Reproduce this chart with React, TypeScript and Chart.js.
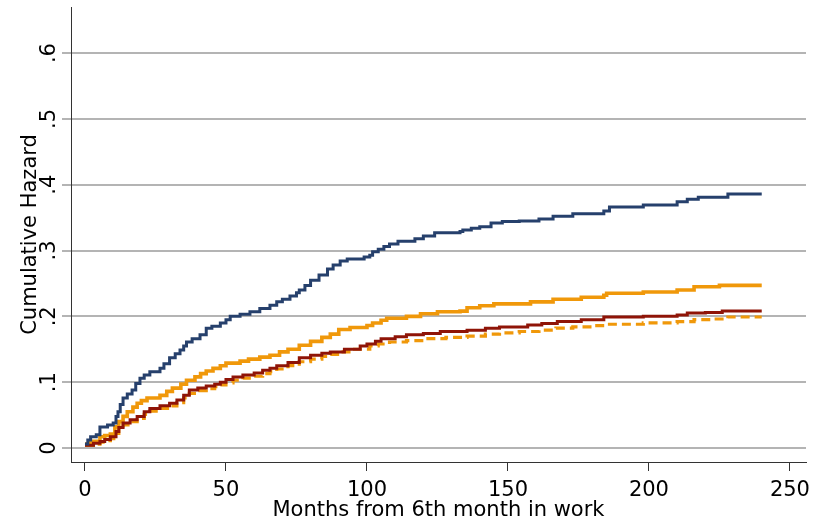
import React, { useEffect, useRef } from "react";
import { Chart, registerables } from "chart.js";

Chart.register(...registerables);

// ---- Data ----
const xTitle = "Months from 6th month in work";
const yTitle = "Cumulative Hazard";
const xTicks = [0, 50, 100, 150, 200, 250];
const yTickLabels = ["0", ".1", ".2", ".3", ".4", ".5", ".6"];

const navyMonths = [0, 1, 2, 4, 5.3, 8, 10, 11, 11.7, 12.5, 13.5, 15, 16.7, 18, 19.5, 21, 23, 26.6, 28, 30, 32, 33.7, 35, 36, 38, 40.8, 43, 45, 48, 50, 51.5, 55, 58.5, 62, 65.6, 68, 70, 72.7, 75, 76, 78, 80, 83, 86, 88, 90.5, 93, 99, 101, 102, 104, 106, 108, 111, 117, 120, 124, 133, 134, 137, 140, 144, 148, 154, 161, 166, 173, 184, 186, 198, 210, 213.6, 217.5, 228, 240];
const navyHazard = [0.006, 0.012, 0.017, 0.02, 0.032, 0.035, 0.038, 0.048, 0.055, 0.066, 0.076, 0.082, 0.088, 0.098, 0.106, 0.111, 0.116, 0.121, 0.128, 0.137, 0.143, 0.149, 0.155, 0.161, 0.166, 0.172, 0.182, 0.185, 0.19, 0.195, 0.2, 0.203, 0.207, 0.212, 0.217, 0.222, 0.226, 0.231, 0.236, 0.24, 0.247, 0.255, 0.263, 0.272, 0.278, 0.284, 0.287, 0.29, 0.293, 0.298, 0.302, 0.306, 0.31, 0.314, 0.318, 0.322, 0.327, 0.329, 0.331, 0.334, 0.336, 0.342, 0.344, 0.345, 0.348, 0.352, 0.356, 0.36, 0.366, 0.369, 0.374, 0.378, 0.381, 0.386, 0.386];

const orangeMonths = [0, 2, 5.3, 7, 9, 10.6, 12, 13.5, 15, 17, 18.5, 20, 22, 26.6, 29, 31, 34, 36, 39, 41, 43, 45.4, 48, 50, 55, 58, 62, 65.6, 69, 72, 76, 80, 84, 87, 90, 94, 100, 102, 105, 107, 114, 119, 125, 133, 135.5, 140, 145, 154, 158, 166, 176, 184, 185, 198, 210, 216, 225, 240];
const orangeHazard = [0.006, 0.01, 0.017, 0.019, 0.021, 0.032, 0.04, 0.048, 0.055, 0.062, 0.068, 0.072, 0.076, 0.08, 0.086, 0.091, 0.097, 0.103, 0.108, 0.113, 0.117, 0.121, 0.125, 0.129, 0.132, 0.135, 0.138, 0.141, 0.146, 0.15, 0.156, 0.162, 0.168, 0.173, 0.18, 0.183, 0.186, 0.19, 0.194, 0.197, 0.2, 0.204, 0.207, 0.208, 0.213, 0.216, 0.219, 0.219, 0.222, 0.226, 0.229, 0.232, 0.235, 0.237, 0.24, 0.245, 0.247, 0.247];

const redMonths = [0, 3, 5.3, 7, 9, 11, 12, 13.5, 16, 18.5, 21, 23, 26.6, 30, 32.6, 35, 37, 40, 43, 46, 48, 50, 52.5, 56, 60, 63, 65.6, 68, 72, 76, 80, 84, 87, 92, 97.6, 100, 103, 105, 110, 114, 120, 126, 135.5, 142, 147, 157, 162, 167.5, 176, 184, 198, 210, 213.6, 220, 226, 240];
const redHazard = [0.004, 0.007, 0.01, 0.013, 0.017, 0.025, 0.031, 0.038, 0.043, 0.048, 0.055, 0.06, 0.064, 0.068, 0.073, 0.08, 0.088, 0.091, 0.094, 0.097, 0.1, 0.104, 0.108, 0.111, 0.114, 0.118, 0.121, 0.125, 0.13, 0.137, 0.141, 0.144, 0.146, 0.15, 0.155, 0.158, 0.162, 0.166, 0.169, 0.172, 0.174, 0.177, 0.179, 0.182, 0.184, 0.187, 0.189, 0.192, 0.195, 0.199, 0.2, 0.202, 0.205, 0.206, 0.208, 0.208];

const dashMonths = [0, 3, 5.3, 7, 9, 11, 12, 13.5, 16, 18.5, 21, 23, 26.6, 30, 32.6, 35, 37, 40, 43, 46, 48, 50, 52.5, 56, 60, 63, 65.6, 68, 72, 76, 80, 84, 87, 90.5, 95, 101, 104, 108, 114, 120, 128, 135.5, 142, 147, 154, 161, 167, 173, 180, 185, 198, 210, 216, 222, 228, 240];
const dashHazard = [0.004, 0.006, 0.009, 0.011, 0.014, 0.022, 0.029, 0.035, 0.04, 0.045, 0.051, 0.056, 0.06, 0.064, 0.069, 0.076, 0.083, 0.087, 0.09, 0.093, 0.096, 0.099, 0.103, 0.106, 0.109, 0.113, 0.116, 0.12, 0.125, 0.131, 0.135, 0.139, 0.142, 0.146, 0.15, 0.155, 0.158, 0.161, 0.163, 0.166, 0.168, 0.17, 0.173, 0.175, 0.177, 0.179, 0.182, 0.184, 0.186, 0.188, 0.19, 0.192, 0.195, 0.196, 0.199, 0.199];

const NAVY = "#26406c";
const ORANGE = "#f0980a";
const MAROON = "#8f1407";
const GRID = "#b4b4b4";
const AXIS = "#333333";
const FONT = "'DejaVu Sans', Verdana, sans-serif";

const pts = (xs: number[], ys: number[]) => xs.map((x, i) => ({ x, y: ys[i] }));

const yLabelPlugin = {
  id: "yRotLabels",
  afterDraw(chart: any) {
    const ys = chart.scales.y;
    const ctx = chart.ctx;
    ctx.save();
    ctx.font = `21px ${FONT}`;
    ctx.fillStyle = "#000";
    ctx.textAlign = "center";
    ctx.textBaseline = "alphabetic";
    yTickLabels.forEach((lab, i) => {
      const py = ys.getPixelForValue(i / 10);
      ctx.save();
      ctx.translate(ys.right - 16, py);
      ctx.rotate(-Math.PI / 2);
      ctx.fillText(lab, 0, 0);
      ctx.restore();
    });
    ctx.restore();
  },
};

export default function App() {
  const ref = useRef<HTMLCanvasElement | null>(null);
  useEffect(() => {
    if (!ref.current) return;
    const chart = new Chart(ref.current, {
      type: "line",
      data: {
        datasets: [
          { data: pts(navyMonths, navyHazard), borderColor: NAVY, borderWidth: 3, stepped: true, pointRadius: 0, fill: false },
          { data: pts(redMonths, redHazard), borderColor: MAROON, borderWidth: 3, stepped: true, pointRadius: 0, fill: false },
          { data: pts(orangeMonths, orangeHazard), borderColor: ORANGE, borderWidth: 3.6, stepped: true, pointRadius: 0, fill: false },
          { data: pts(dashMonths, dashHazard), borderColor: ORANGE, borderWidth: 3.2, borderDash: [9, 5], stepped: true, pointRadius: 0, fill: false },
        ],
      },
      options: {
        animation: false,
        responsive: false,
        devicePixelRatio: 1,
        layout: { padding: { top: 7, right: 8, left: 0, bottom: 0 } },
        plugins: { legend: { display: false }, tooltip: { enabled: false } },
        scales: {
          x: {
            type: "linear",
            min: -4.96,
            max: 255.7,
            afterFit: (s: any) => { s.height = 59; s.paddingLeft = 0; s.paddingRight = 0; },
            afterBuildTicks: (s: any) => { s.ticks = xTicks.map((v) => ({ value: v })); },
            ticks: { font: { family: FONT, size: 21 }, color: "#000", padding: 7, maxRotation: 0, includeBounds: false },
            grid: { drawOnChartArea: false, drawTicks: true, tickLength: 9, color: AXIS, lineWidth: 1 },
            border: { display: true, color: AXIS, width: 1 },
            title: { display: true, text: xTitle, font: { family: FONT, size: 21, lineHeight: 0.95 }, color: "#000", padding: { top: 0, bottom: 0 } },
          },
          y: {
            type: "linear",
            min: -0.0213,
            max: 0.67,
            afterFit: (s: any) => { s.width = 71; s.paddingTop = 0; s.paddingBottom = 0; },
            ticks: { display: false, stepSize: 0.1, includeBounds: false },
            grid: { color: GRID, lineWidth: 2, drawTicks: true, tickLength: 9 },
            border: { display: true, color: AXIS, width: 1 },
            title: { display: true, text: yTitle, font: { family: FONT, size: 21 }, color: "#000", padding: { top: 18, bottom: 0 } },
          },
        },
      },
      plugins: [yLabelPlugin],
    });
    return () => chart.destroy();
  }, []);
  return (
    <div style={{ position: "fixed", left: 0, top: 0, width: 814, height: 521, background: "#fff" }}>
      <canvas ref={ref} width={814} height={521} />
    </div>
  );
}
